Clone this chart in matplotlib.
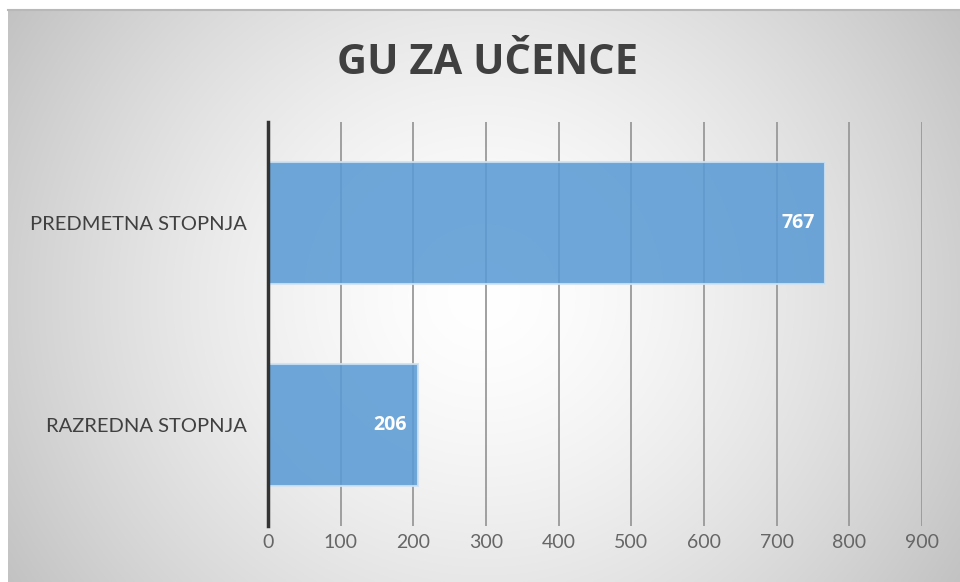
import numpy as np
import matplotlib.pyplot as plt

categories = ["RAZREDNA STOPNJA", "PREDMETNA STOPNJA"]
values = [206, 767]
xticks = [0, 100, 200, 300, 400, 500, 600, 700, 800, 900]
title = "GU ZA UČENCE"

W, H = 960, 582
fig = plt.figure(figsize=(W / 100, H / 100), dpi=100)
fig.patch.set_facecolor("white")

# background panel with radial gradient
bx0, by1 = 8 / W, 1 - 10 / H
bg = fig.add_axes([bx0, 0, 1 - bx0, by1], zorder=-2)
yy, xx = np.mgrid[-1:1:300j, -1:1:500j]
r = np.sqrt((xx * 0.95) ** 2 + (yy * 0.6) ** 2)
g = 1.0 - 0.2 * np.clip(r, 0, 1.4) ** 1.5
img = np.dstack([g, g, g])
bg.imshow(np.clip(img, 0, 1), aspect="auto", extent=[0, 1, 0, 1], interpolation="bilinear")
bg.set_axis_off()
fig.add_artist(plt.Line2D([bx0, 1], [by1, by1], transform=fig.transFigure, color="#b8b8b8", lw=1.5))

# plot area: x 268..922 px, y 122..526 px
left = 268 / W
right = 922 / W
top = 1 - 122 / H
bottom = 1 - 526 / H
ax = fig.add_axes([left, bottom, right - left, top - bottom])
ax.patch.set_alpha(0)

ypos = np.arange(len(categories))
bars = ax.barh(ypos, values, height=0.6, color="#5b9bd5", alpha=0.88,
               edgecolor="#cfe2f3", linewidth=1.5, zorder=3)
for yi, v in zip(ypos, values):
    ax.text(v - 900 * 0.016, yi, str(v), ha="right", va="center", color="white",
            fontsize=14, fontweight="bold", family="Open Sans", zorder=4)

ax.set_xlim(0, 900)
ax.set_ylim(-0.5, len(categories) - 0.5)
ax.set_xticks(xticks)
ax.set_xticklabels([str(t) for t in xticks], fontsize=14, color="#666666", family="Lato")
ax.set_yticks(ypos)
ax.set_yticklabels(categories, fontsize=14.5, color="#404040", family="Lato")
ax.tick_params(axis="both", length=0)
ax.tick_params(axis="x", pad=6)
ax.tick_params(axis="y", pad=15)
ax.grid(axis="x", color="#999999", lw=1.3, zorder=0)
ax.set_axisbelow(True)
for s in ["top", "right", "bottom"]:
    ax.spines[s].set_visible(False)
ax.spines["left"].set_color("#333333")
ax.spines["left"].set_linewidth(2.5)
ax.spines["left"].set_zorder(5)

fig.text(488 / W, 1 - 63 / H, title, ha="center", va="center", fontsize=30,
         fontweight="bold", color="#404040", family="Open Sans")

fig.savefig("out.png", dpi=100)
